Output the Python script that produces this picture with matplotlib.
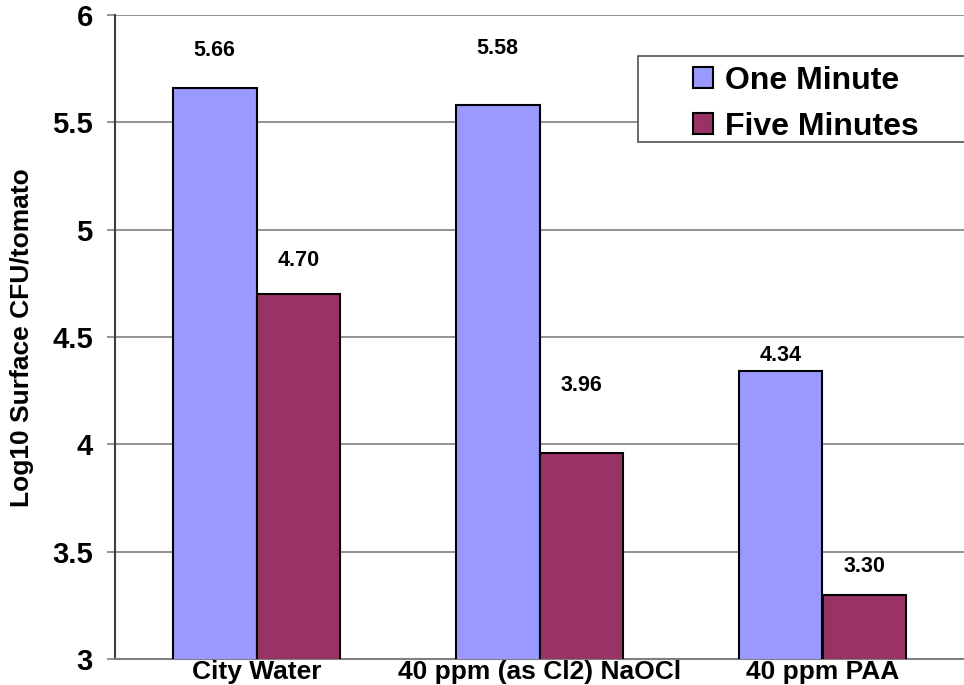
import matplotlib
matplotlib.use("Agg")
import matplotlib.pyplot as plt
import numpy as np
from matplotlib.patches import Rectangle, Patch
from matplotlib.ticker import MultipleLocator, FormatStrFormatter

plt.rcParams['font.family'] = ['Liberation Sans', 'DejaVu Sans']
plt.rcParams['font.weight'] = 'bold'

# Data
categories = ["City Water", "40 ppm (as Cl2) NaOCl", "40 ppm PAA"]
series_names = ["One Minute", "Five Minutes"]
one_minute = [5.66, 5.58, 4.34]
five_minutes = [4.70, 3.96, 3.30]
value_labels_one = ["5.66", "5.58", "4.34"]
value_labels_five = ["4.70", "3.96", "3.30"]

# Where the value labels sit (data units on the y axis)
label_y_one = [5.834, 5.846, 4.416]
label_y_five = [4.858, 4.276, 3.433]

colors = ["#9999FF", "#993366"]
W, H = 964, 685
fig = plt.figure(figsize=(W / 100, H / 100), dpi=100)
ax = fig.add_axes([115 / W, 1 - 659 / H, (964 - 115) / W, (659 - 15) / H])

x = np.arange(len(categories))
bw = 0.296
ax.bar(x - bw / 2, one_minute, bw, color=colors[0], edgecolor="black",
       linewidth=1.5, zorder=3)
ax.bar(x + bw / 2, five_minutes, bw, color=colors[1], edgecolor="black",
       linewidth=1.5, zorder=3)

for xi, ty, lab in zip(x - bw / 2, label_y_one, value_labels_one):
    ax.text(xi, ty, lab, ha="center", va="center", fontsize=15.5, fontweight="bold")
for xi, ty, lab in zip(x + bw / 2, label_y_five, value_labels_five):
    ax.text(xi, ty, lab, ha="center", va="center", fontsize=15.5, fontweight="bold")

ax.set_xlim(-0.5, 2.5)
ax.set_ylim(3, 6)
ax.yaxis.set_major_locator(MultipleLocator(0.5))
ax.yaxis.set_major_formatter(FormatStrFormatter('%g'))
ax.grid(axis="y", color="#808080", linewidth=1.2, zorder=0)
ax.set_axisbelow(True)

ax.set_xticks(x)
ax.set_xticklabels(categories, fontsize=19, fontweight="bold")
ax.tick_params(axis="x", length=0, pad=1)
ax.tick_params(axis="y", length=6, width=1.2, color="#808080", pad=10,
               labelsize=21)
for t in ax.get_yticklabels():
    t.set_fontweight("bold")

ax.spines["top"].set_visible(False)
ax.spines["right"].set_visible(False)
ax.spines["left"].set_color("#404040")
ax.spines["left"].set_linewidth(1.5)
ax.spines["bottom"].set_color("#808080")
ax.spines["bottom"].set_linewidth(1.5)

fig.text(22 / W, 1 - 337.5 / H, "Log10 Surface CFU/tomato", rotation=90,
         ha="center", va="center", fontsize=19, fontweight="bold")

# Legend box and entries
fig.patches.append(Rectangle((638 / W, 1 - 142 / H), (975 - 638) / W, (142 - 56) / H,
                             transform=fig.transFigure, facecolor="white",
                             edgecolor="#505050", linewidth=1.2, zorder=5))
handles = [Patch(facecolor=c, edgecolor="black", linewidth=1.5) for c in colors]
leg = fig.legend(handles, series_names, loc="upper left",
                 bbox_to_anchor=(693 / W, 1 - 66 / H), frameon=False,
                 prop={"size": 23, "weight": "bold"}, handlelength=0.63,
                 handleheight=0.63, handletextpad=0.38, labelspacing=0.5,
                 borderpad=0, borderaxespad=0)
leg.set_zorder(6)

fig.savefig("out.png", dpi=100)
